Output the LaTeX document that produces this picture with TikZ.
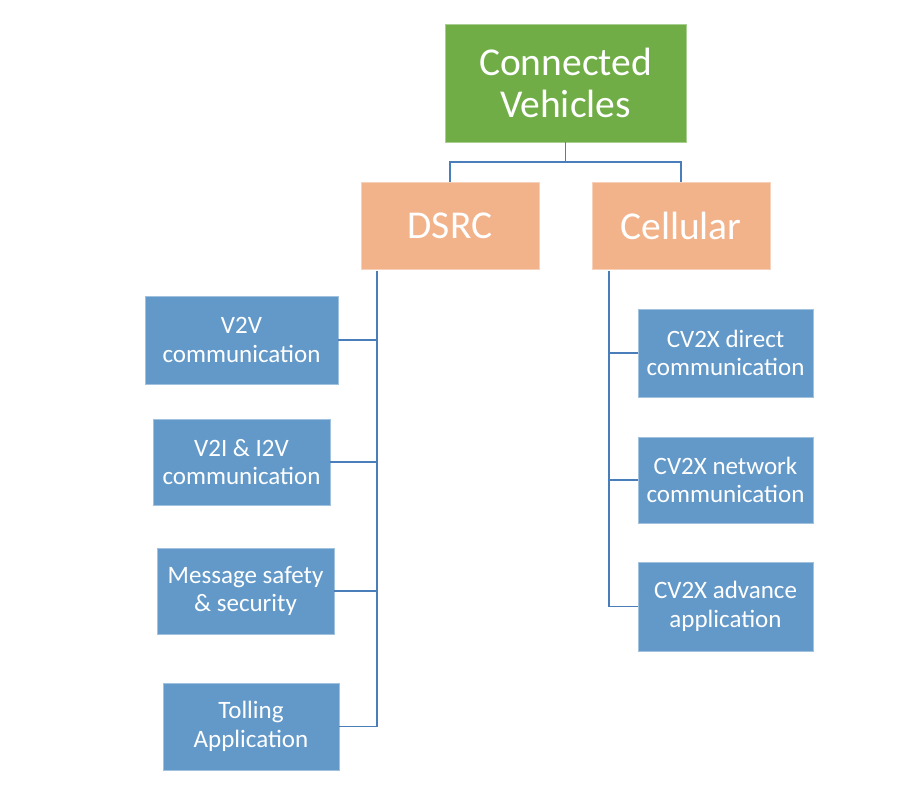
\documentclass[tikz,border=0pt]{standalone}
\usepackage{fontspec}
\setmainfont{Carlito}
\definecolor{cvgreen}{HTML}{70AD47}
\definecolor{cvorange}{HTML}{F2B28A}
\definecolor{cvblue}{HTML}{6399C9}
\definecolor{cvline}{HTML}{4A7EBB}
\begin{document}
\begin{tikzpicture}[x=1pt,y=1pt,
  box/.style={rectangle,inner sep=0pt,align=center,text=white,line width=0.8pt},
  topbox/.style={box,fill=cvgreen,draw=cvgreen!60!white,font=\fontsize{39.5}{42}\selectfont},
  midbox/.style={box,fill=cvorange,draw=cvorange!60!white,font=\fontsize{39.5}{42}\selectfont},
  leafbox/.style={box,fill=cvblue,draw=cvblue!60!white,font=\fontsize{25}{28.5}\selectfont},
  conn/.style={draw=cvline,line width=1.5pt},
  trunk/.style={draw=cvline,line width=2pt}]
\useasboundingbox (0,0) rectangle (922,-792);
\fill[white] (0,0) rectangle (922,-792);
\node[topbox,minimum width=241,minimum height=118] (cv) at (565.5,-83) {Connected\\Vehicles};
\node[midbox,minimum width=178,minimum height=87] (dsrc) at (450,-225.5) {DSRC};
\node[midbox,minimum width=178,minimum height=87] (cell) at (681,-225.5) {Cellular};
\node[leafbox,minimum width=193,minimum height=88] (v2v) at (241.5,-340) {V2V\\communication};
\node[leafbox,minimum width=177,minimum height=86] (v2i) at (241.5,-462) {V2I \& I2V\\communication};
\node[leafbox,minimum width=177,minimum height=86] (msg) at (245.5,-591) {Message safety\\\& security};
\node[leafbox,minimum width=176,minimum height=87] (toll) at (251,-726.5) {Tolling\\Application};
\node[leafbox,minimum width=175,minimum height=88] (dir) at (725.5,-353) {CV2X direct\\communication};
\node[leafbox,minimum width=175,minimum height=86] (net) at (725.5,-480) {CV2X network\\communication};
\node[leafbox,minimum width=175,minimum height=89] (adv) at (725.5,-606.5) {CV2X advance\\application};
\coordinate (jt) at (565.5,-162);
\coordinate (dt) at (377,-271);
\coordinate (db) at (377,-726.5);
\coordinate (ct) at (609,-271);
\coordinate (cb) at (609,-606.5);
\draw[conn] (cv.south) -- (jt);
\draw[conn] (jt) -| (dsrc.north);
\draw[conn] (jt) -| (cell.north);
\draw[trunk] (dt) -- (db);
\draw[conn] (ct) -- (cb);
\draw[conn] (v2v.east) -- (v2v.east -| dt);
\draw[conn] (v2i.east) -- (v2i.east -| dt);
\draw[conn] (msg.east) -- (msg.east -| dt);
\draw[conn] (toll.east) -- (db);
\draw[conn] (dir.west) -- (dir.west -| ct);
\draw[conn] (net.west) -- (net.west -| ct);
\draw[conn] (adv.west) -- (cb);
\end{tikzpicture}
\end{document}
